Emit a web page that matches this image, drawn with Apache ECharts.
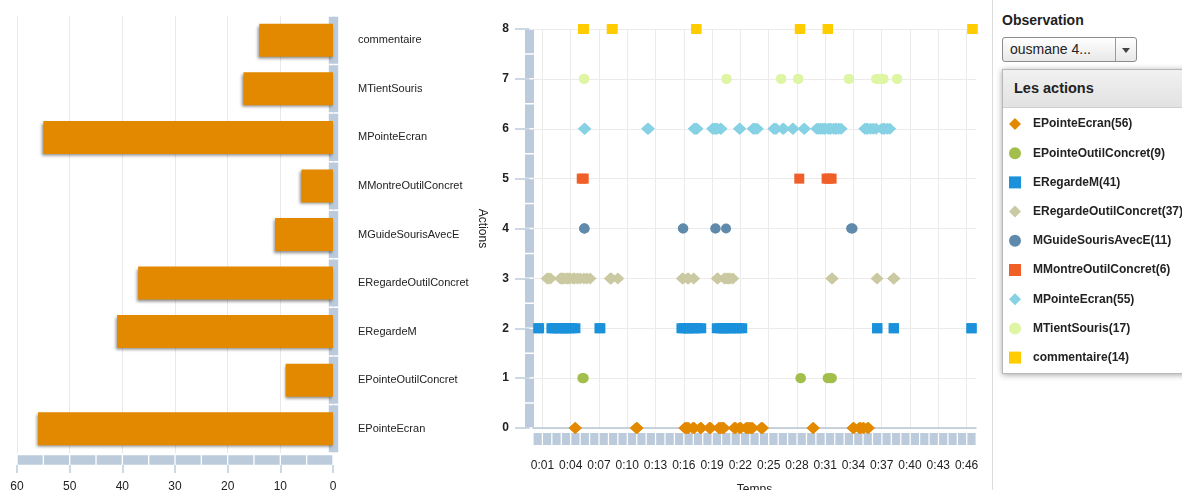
<!DOCTYPE html>
<html>
<head>
<meta charset="utf-8">
<script src="https://cdn.jsdelivr.net/npm/echarts@6/dist/echarts.min.js"></script>
<style>
    body { margin: 0; background: #fff; font-family: 'Liberation Sans', Arial, sans-serif; }
    #wrap { position: relative; width: 1182px; height: 490px; overflow: hidden; }
    #chart { position: absolute; left: 0; top: 0; width: 1182px; height: 490px; z-index: 2; }
    .sep { position: absolute; left: 992px; top: 0; width: 1px; height: 490px; background: #dcdcdc; }
    .obs { position: absolute; left: 1002px; top: 12px; font-size: 14px; font-weight: bold; color: #222; }
    .select { position: absolute; left: 1002px; top: 37px; width: 133px; height: 23px; border: 1px solid #8c8c8c;
        border-radius: 3px; background: linear-gradient(#ffffff, #e8e8e8); }
    .select span { position: absolute; left: 7px; top: 0; line-height: 23px; font-size: 14px; color: #222; }
    .select .bar { position: absolute; left: 112px; top: 0; width: 1px; height: 23px; background: #9a9a9a; }
    .select .arrow { position: absolute; left: 119px; top: 10px; width: 0; height: 0;
        border-left: 4px solid transparent; border-right: 4px solid transparent; border-top: 5px solid #444; }
    .panel { position: absolute; left: 1002px; top: 69px; width: 220px; height: 303px; background: #fff;
        border: 1px solid #b8b8b8; box-shadow: 0 1px 6px rgba(0, 0, 0, 0.35); }
    .panel .head { height: 37px; line-height: 37px; padding-left: 11px; font-size: 14.5px; font-weight: bold; color: #222;
        background: linear-gradient(#f1f1f1, #e2e2e2); border-bottom: 1px solid #cfcfcf; }
</style>
</head>
<body>
<div id="wrap">
    <div class="sep"></div>
    <div class="obs">Observation</div>
    <div class="select"><span>ousmane 4...</span><div class="bar"></div><div class="arrow"></div></div>
    <div class="panel"><div class="head">Les actions</div></div>
    <div id="chart"></div>
</div>
<script>
    // actions, du bas vers le haut (meme ordre pour les barres et le nuage de points)
    var actions = ['EPointeEcran', 'EPointeOutilConcret', 'ERegardeM', 'ERegardeOutilConcret',
        'MGuideSourisAvecE', 'MMontreOutilConcret', 'MPointeEcran', 'MTientSouris', 'commentaire'];
    var actionCounts = [56, 9, 41, 37, 11, 6, 55, 17, 14];

    // graduations du temps (minutes)
    var timeTicks = [1, 4, 7, 10, 13, 16, 19, 22, 25, 28, 31, 34, 37, 40, 43, 46];

    // instants de chaque action, en minutes
    var tEPointeEcran = [4.46, 4.5, 10.95, 11.0, 11.05,
        16.1, 16.2, 16.3, 16.4, 16.5, 16.95, 17.05, 17.1, 17.75, 17.8, 17.85,
        18.7, 18.75, 18.8, 18.85, 19.7, 19.8, 19.9, 20.0, 20.1, 20.2, 20.25,
        21.35, 21.4, 21.5, 21.9, 22.0, 22.05, 22.6, 22.7, 22.8, 22.9, 23.0, 23.1, 23.2, 23.3,
        24.2, 24.3, 24.35, 29.7, 29.75,
        33.95, 34.0, 34.05, 34.6, 34.7, 34.75, 35.0, 35.1, 35.5, 35.6];
    var tEPointeOutilConcret = [5.24, 5.3, 5.38, 28.37, 28.43, 31.26, 31.4, 31.55, 31.71];
    var tERegardeM = [0.55, 0.65,
        1.95, 2.1, 2.3, 2.6, 2.9, 3.2, 3.35, 3.5, 3.8, 4.1, 4.5,
        7.05, 7.15,
        15.75, 16.0, 16.3, 16.45, 16.6, 16.9, 17.2, 17.5, 17.85,
        19.5, 19.8, 20.1, 20.25, 20.4, 20.7, 21.0, 21.3, 21.6, 21.9, 22.2,
        36.5, 36.55, 38.25, 38.3, 46.5, 46.55];
    var tERegardeOutilConcret = [1.5, 1.6, 1.85, 2.9, 3.0, 3.15, 3.3, 3.55, 3.7, 3.9, 4.25, 4.4, 4.7, 5.0, 5.4, 5.7, 6.05,
        8.2, 8.3, 9.0,
        15.85, 15.9, 16.4, 16.5, 17.05,
        19.55, 19.6, 20.3, 20.5, 20.7, 20.9, 21.2,
        31.7, 31.75, 36.5, 38.25, 38.3];
    var tMGuideSourisAvecE = [5.42, 5.45, 5.48, 15.9, 15.95, 19.34, 19.38, 20.48, 33.75, 33.85, 33.9];
    var tMMontreOutilConcret = [5.17, 5.38, 28.25, 31.15, 31.4, 31.68];
    var tMPointeEcran = [5.45, 5.5, 12.15, 12.25,
        17.1, 17.2, 17.3, 17.4,
        19.05, 19.2, 19.3, 19.45, 19.55, 19.9, 19.95,
        21.9, 21.95, 23.35, 23.45, 23.6, 23.8,
        25.55, 25.7, 25.8, 26.5, 26.6, 27.55, 27.6,
        28.75, 28.8,
        30.1, 30.3, 30.5, 30.7, 30.9, 31.0, 31.3, 31.5, 31.6, 31.9, 32.1, 32.2, 32.45, 32.7,
        35.2, 35.4, 35.5, 35.8, 36.1, 36.4, 37.0, 37.2, 37.3, 37.6, 37.85];
    var tMTientSouris = [5.4, 5.45, 20.5, 20.55, 26.3, 26.35, 28.1, 28.15, 33.5, 33.55,
        36.4, 36.6, 36.8, 37.0, 37.2, 38.6, 38.65];
    var tCommentaire = [5.3, 5.35, 5.4, 8.35, 8.4, 8.45, 17.3, 17.35, 28.3, 28.35, 31.25, 31.3, 46.6, 46.65];

    var actionTimes = [tEPointeEcran, tEPointeOutilConcret, tERegardeM, tERegardeOutilConcret,
        tMGuideSourisAvecE, tMMontreOutilConcret, tMPointeEcran, tMTientSouris, tCommentaire];

    // apparence de chaque action
    var symbols = ['diamond', 'circle', 'rect', 'diamond', 'circle', 'rect', 'diamond', 'circle', 'rect'];
    var colors = ['#e38900', '#a3bf4b', '#1a91da', '#cbc9a1', '#5f8aab', '#f05f28', '#86d1e4', '#def5a3', '#ffcc00'];

    var RULER = '#bccbdb';
    var FONT = "'Liberation Sans', Arial, sans-serif";

    function fmtTime(v) {
        var m = Math.round(v);
        var s = m % 60;
        return Math.floor(m / 60) + ':' + (s < 10 ? '0' : '') + s;
    }

    var myChart = echarts.init(document.getElementById('chart'));

    var series = [{
        type: 'bar',
        xAxisIndex: 0,
        yAxisIndex: 0,
        barWidth: 33,
        silent: true,
        itemStyle: {
            color: '#e38900',
            shadowColor: 'rgba(0,0,0,0.45)',
            shadowBlur: 3,
            shadowOffsetX: -1,
            shadowOffsetY: 2
        },
        data: actionCounts
    }];

    for (var i = 0; i < actions.length; i++) {
        series.push({
            name: actions[i],
            type: 'scatter',
            xAxisIndex: 3,
            yAxisIndex: 1,
            symbol: symbols[i],
            symbolSize: symbols[i] == 'diamond' ? [13, 12] : 10,
            itemStyle: {color: colors[i], opacity: 1},
            data: actionTimes[i].map(function (t) { return [t, this.idx]; }, {idx: i})
        });
    }

    var option = {
        backgroundColor: 'transparent',
        animation: false,
        textStyle: {fontFamily: FONT},
        legend: {
            orient: 'vertical',
            left: 1004,
            top: 113,
            padding: 5,
            itemWidth: 12,
            itemHeight: 12,
            itemGap: 17.2,
            selectedMode: false,
            data: actions,
            formatter: function (name) {
                return name + '(' + actionCounts[actions.indexOf(name)] + ')';
            },
            textStyle: {fontFamily: FONT, fontSize: 12, fontWeight: 'bold', color: '#222', padding: [0, 0, 0, 7]}
        },
        grid: [
            {left: 17, right: 849, top: 16, bottom: 37, outerBoundsMode: 'none'},
            {left: 533, right: 206, top: 29, bottom: 62, outerBoundsMode: 'none'}
        ],
        xAxis: [
            {   // regle du bas, graphique des totaux
                type: 'value', gridIndex: 0, inverse: true, min: 0, max: 60, interval: 10,
                position: 'bottom', offset: 7,
                axisLine: {show: true, onZero: false, lineStyle: {color: RULER, width: 9.5, type: [25, 1.33], dashOffset: -0.67, cap: 'butt'}},
                axisTick: {show: false},
                axisLabel: {show: false},
                splitLine: {show: true, lineStyle: {color: '#e9e9e9', width: 1}}
            },
            {   // graduations + libelles
                type: 'value', gridIndex: 0, inverse: true, min: 0, max: 60, interval: 10,
                position: 'bottom', offset: 12,
                axisLine: {show: false, onZero: false},
                axisTick: {show: true, length: 8, lineStyle: {color: RULER, width: 1.5}},
                axisLabel: {margin: 16, fontSize: 12, color: '#222', fontFamily: FONT},
                splitLine: {show: false}
            },
            {   // regle du temps
                type: 'value', gridIndex: 1, min: 0, max: 47,
                position: 'bottom', offset: 11,
                axisLine: {show: true, onZero: false, lineStyle: {color: RULER, width: 12, type: [8.2, 1.23], dashOffset: -0.6, cap: 'butt'}},
                axisTick: {show: false},
                axisLabel: {show: false},
                splitLine: {show: false}
            },
            {   // axe du temps
                type: 'value', gridIndex: 1, min: 0, max: 47,
                position: 'bottom',
                name: 'Temps',
                nameLocation: 'middle',
                nameGap: 56,
                nameTextStyle: {fontSize: 12, color: '#222', fontFamily: FONT},
                axisLine: {show: true, onZero: false, lineStyle: {color: '#b9c6d3', width: 1.5}},
                axisTick: {show: false, customValues: timeTicks},
                axisLabel: {customValues: timeTicks, formatter: fmtTime, margin: 32, fontSize: 12, color: '#222', fontFamily: FONT},
                splitLine: {show: true, lineStyle: {color: '#ebebeb', width: 1}}
            }
        ],
        yAxis: [
            {
                type: 'category', gridIndex: 0, position: 'right', offset: 5,
                data: actions,
                axisLine: {show: true, lineStyle: {color: RULER, width: 9.4, type: [47.06, 1.5], dashOffset: -0.75, cap: 'butt'}},
                axisTick: {show: false},
                axisLabel: {margin: 20, fontSize: 11, color: '#222', fontFamily: FONT},
                splitLine: {show: false}
            },
            {
                type: 'value', gridIndex: 1, min: 0, max: 8, interval: 1, offset: 3.5,
                name: 'Actions',
                nameLocation: 'middle',
                nameRotate: -90,
                nameGap: 41,
                nameTextStyle: {fontSize: 12, color: '#222', fontFamily: FONT},
                axisLine: {show: true, onZero: false, lineStyle: {color: RULER, width: 9, type: [23.44, 1.5], dashOffset: -0.75, cap: 'butt'}},
                axisTick: {show: true, length: 14.5, lineStyle: {color: RULER, width: 1.5}},
                axisLabel: {margin: 20.5, fontSize: 12, fontWeight: 'bold', color: '#222', fontFamily: FONT},
                splitLine: {show: true, lineStyle: {color: '#ebebeb', width: 1}}
            }
        ],
        series: series
    };

    myChart.setOption(option);
</script>
</body>
</html>
